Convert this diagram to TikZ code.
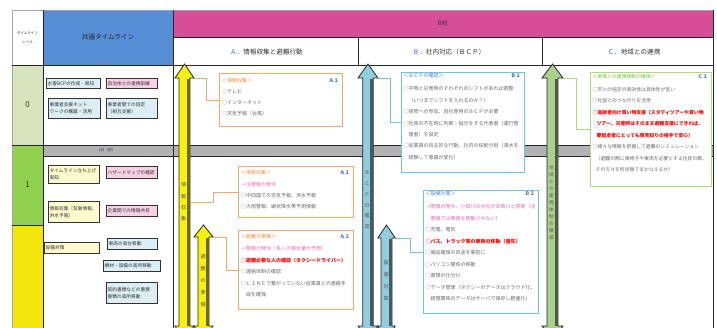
\documentclass[tikz,border=0pt]{standalone}
\usepackage{fontspec}
\setmainfont{Noto Sans CJK JP}
\usetikzlibrary{calc}
\definecolor{pinkhead}{RGB}{213,78,151}
\definecolor{bluehead}{RGB}{85,142,213}
\definecolor{lvlzero}{RGB}{216,228,188}
\definecolor{lvlone}{RGB}{146,208,80}
\definecolor{lvltwo}{RGB}{242,230,12}
\definecolor{grayband}{RGB}{178,178,180}
\definecolor{arryel}{RGB}{246,240,20}
\definecolor{arrblue}{RGB}{146,205,222}
\definecolor{arrgreen}{RGB}{169,208,142}
\definecolor{bxblue}{RGB}{218,238,243}
\definecolor{bxpink}{RGB}{248,208,228}
\definecolor{bxyel}{RGB}{255,250,205}
\definecolor{orgB}{RGB}{245,165,110}
\definecolor{orgT}{RGB}{240,140,60}
\definecolor{bluB}{RGB}{110,195,228}
\definecolor{bluT}{RGB}{70,130,200}
\definecolor{grnB}{RGB}{170,220,130}
\definecolor{grnT}{RGB}{110,190,60}
\definecolor{labblue}{RGB}{68,114,196}
\definecolor{pinkT}{RGB}{228,100,170}
\definecolor{txtgray}{RGB}{105,105,105}
\tikzset{
  tline/.style={draw=black!85, line width=0.8pt},
  cbox/.style={draw=black!80, line width=0.9pt, anchor=north west, inner sep=1.2pt,
    align=left, font=\fontsize{4.7}{6.8}\selectfont, text=black!80},
  bbox/.style={draw=#1, line width=1pt, anchor=north west, inner sep=0pt, fill=white},
  txt/.style={anchor=north west, inner sep=0pt, align=left, text=txtgray,
    font=\fontsize{5}{11.4}\selectfont},
  lab/.style={anchor=north east, inner sep=0pt, text=labblue, font=\fontsize{5}{6}\selectfont\bfseries},
  conn/.style={line width=0.9pt, draw=#1},
  vtxt/.style={inner sep=0pt, align=center, text=black!65},
  hdr/.style={inner sep=0pt, text=black!80},
}
\newcommand\udarr[9]{%
  \path[draw=black!85, line width=0.8pt, fill=#7]
    (#2,#3) -- (#2+#5,#4) -- (#2+#6,#4) -- (#2+#6,326) -- (#2+#5,326) -- (#2,340)
    -- (#2-#5,326) -- (#2-#6,326) -- (#2-#6,#4) -- (#2-#5,#4) -- cycle;
  \fill[#8] (#2+#6-2.8,#4+0.6) rectangle (#2+#6-0.4,326);
  \coordinate (#1) at (#2,#3);
  \coordinate (#9) at (#2+#5,#4);
}
\begin{document}
\begin{tikzpicture}[x=1pt,y=-1pt]
\useasboundingbox (0,0) rectangle (717,327);
\clip (0,0) rectangle (717,327);
\fill[white] (0,0) rectangle (717,327);

% header cells
\fill[bluehead] (43,10) rectangle (173,65);
\fill[pinkhead] (173,10) rectangle (713,37);
% level column
\fill[lvlzero] (12,65) rectangle (43,145);
\fill[lvlone] (12,145) rectangle (43,225);
\fill[lvltwo] (12,225) rectangle (43,330);
% gray band
\fill[grayband] (43,145) rectangle (713,156);

% outer border
\draw[draw=black!35, line width=0.9pt] (12,330) -- (12,10) -- (713,10);
\draw[tline] (713,10) -- (713,330);
% table lines
\draw[tline] (43,10) -- (43,330);
\draw[tline] (173,10) -- (173,330);
\draw[tline] (173,37) -- (713,37);
\draw[tline] (12,65) -- (713,65);
\draw[tline] (358,37) -- (358,65);
\draw[tline] (542,37) -- (542,65);
\draw[tline] (12,145) -- (713,145);
\draw[tline] (43,156) -- (713,156);
\draw[tline] (12,225) -- (43,225);

% header texts
\node[hdr, align=center, font=\fontsize{3.6}{9}\selectfont] (hlvl) at (27.5,37.5) {タイムライン\\レベル};
\node[hdr, font=\fontsize{6.6}{8}\selectfont, text=black!85] (hcommon) at (108,37.5) {共通タイムライン};
\node[hdr, font=\fontsize{6.2}{8}\selectfont] (hb) at (443,23.5) {B社};
\node[hdr, font=\fontsize{6.6}{8}\selectfont] (hA) at (266.5,51.5) {\textcolor{labblue}{Ａ．}情報収集と避難行動};
\node[hdr, font=\fontsize{6.6}{8}\selectfont] (hB) at (449,51.5) {\textcolor{labblue}{Ｂ．}社内対応（ＢＣＰ）};
\node[hdr, font=\fontsize{6.6}{8}\selectfont] (hC) at (634,51.5) {\textcolor{labblue}{Ｃ．}地域との連携};
\node[hdr, font=\fontsize{8}{9}\selectfont] (l0) at (27.5,105) {0};
\node[hdr, font=\fontsize{8}{9}\selectfont] (l1) at (27.5,185) {1};
\node[hdr, font=\fontsize{3.6}{5}\selectfont] (band) at (107,150.5) {5日（前）};

% common timeline boxes
\node[cbox, fill=bxblue, text width=51.6pt, minimum height=10pt] (c1) at (46,78) {水害BCPの作成・周知};
\node[cbox, fill=bxpink, text width=48.6pt, minimum height=10pt] (c2) at (106,78) {自治体との連携訓練};
\node[cbox, fill=bxblue, text width=49.6pt, minimum height=20pt] (c3) at (48,98) {事業者支援ネット\\ワークの構築・活用};
\node[cbox, fill=bxblue, text width=48.6pt, minimum height=20pt] (c4) at (106,98) {事業者間での協定\\（相互支援）};
\node[cbox, fill=bxyel, text width=48.6pt, minimum height=18pt] (c5) at (48,165) {タイムライン立ち上げ\\周知};
\node[cbox, fill=bxpink, text width=48.6pt, minimum height=12pt] (c6) at (106,166) {ハザードマップの確認};
\node[cbox, fill=bxyel, text width=48.6pt, minimum height=21pt] (c7) at (48,201) {情報収集（気象情報、\\洪水予報）};
\node[cbox, fill=bxpink, text width=48.6pt, minimum height=11pt] (c8) at (106,205) {企業間での情報共有};
\node[cbox, fill=bxyel, text width=52.6pt, minimum height=11pt] (c9) at (44,242) {設備対策};
\node[cbox, fill=bxblue, text width=47.6pt, minimum height=11pt] (c10) at (107,238) {車両の高台移動};
\node[cbox, fill=bxblue, text width=54.6pt, minimum height=11pt] (c11) at (103,260) {機材・設備の高所移動};
\node[cbox, fill=bxblue, text width=48.6pt, minimum height=21pt] (c12) at (106,282) {契約書類などの重要\\書類の高所移動};

% arrows
\udarr{ya}{184.5}{64}{78}{9.5}{5.5}{arryel}{arryel!45!black}{yar}
\udarr{yb}{203.5}{225}{237}{9.5}{5.5}{arryel}{arryel!45!black}{ybr}
\udarr{ba}{368}{64}{78}{10}{5.2}{arrblue}{arrblue!45!black}{bar}
\udarr{bb}{386.5}{225}{238}{8.75}{5.5}{arrblue}{arrblue!45!black}{bbr}
\udarr{ga}{552.5}{64}{78}{10.5}{5.5}{arrgreen}{arrgreen!45!black}{gar}
\coordinate (yam) at (190,202);

\node[vtxt, font=\fontsize{5}{11.3}\selectfont] (yat) at (183.5,202) {情\\報\\収\\集};
\node[vtxt, font=\fontsize{5}{12}\selectfont] (ybt) at (203,281) {避\\難\\の\\準\\備};
\node[vtxt, font=\fontsize{5}{10.8}\selectfont] (bat) at (367,200) {Ｂ\\Ｃ\\Ｐ\\の\\確\\認};
\node[vtxt, font=\fontsize{5}{12}\selectfont] (bbt) at (386,281) {設\\備\\対\\策};
\node[vtxt, font=\fontsize{4.6}{7}\selectfont] (gat) at (551.5,203) {地\\域\\と\\の\\連\\携\\体\\制\\の\\確\\保};

% detail boxes
\node[bbox=orgB, minimum width=123pt, minimum height=53pt] (a1) at (219,73) {};
\node[bbox=orgB, minimum width=115pt, minimum height=51pt] (a1b) at (238,166) {};
\node[bbox=orgB, minimum width=115pt, minimum height=79pt] (a2) at (238,230) {};
\node[bbox=bluB, minimum width=123pt, minimum height=100pt] (b1) at (401,72) {};
\node[bbox=bluB, minimum width=115pt, minimum height=123pt] (b2) at (423,190) {};
\node[bbox=grnB, minimum width=121pt, minimum height=114pt] (cc1) at (590,72) {};

% connectors
\draw[conn=orgB] (yar) -- ++(12,0) |- (a1.west);
\draw[conn=orgB] (yam) -- ++(23,0) |- (a1b.west);
\draw[conn=orgB] (ybr) -- ++(13,0) |- (a2.west);
\draw[conn=bluB] (bar) -- ++(12,0) |- (b1.west);
\draw[conn=bluB] (bbr) -- ++(14.75,0) |- (b2.west);
\draw[conn=grnB] (gar) -- ++(13,0) |- (cc1.west);

% texts in detail boxes
\node[txt, font=\fontsize{5}{10.7}\selectfont] (a1t) at (222,78.5) {\textcolor{orgT}{＜情報収集＞}\\
○テレビ\\○インターネット\\○天気予報（台風）};
\node[lab] (a1l) at (339,78.5) {Ａ１};

\node[txt, font=\fontsize{5}{11.3}\selectfont] (a1bt) at (241,170.5) {\textcolor{orgT}{＜情報収集＞}\\
\textcolor{pinkT}{→注意報の発令}\\
○中四国での天気予報、洪水予報\\
○大雨警報、線状降水帯予測情報};
\node[lab] (a1bl) at (350,170.5) {Ａ１};

\node[txt, font=\fontsize{5}{11.6}\selectfont] (a2t) at (241,234.5) {\textcolor{orgT}{＜避難の準備＞}\\
\textcolor{pinkT}{→警報の発令（多くの降水量が予想）}\\
\textcolor{red}{\bfseries ○避難必要な人の確認（タクシードライバー）}\\
○連絡体制の確認\\
○ＬＩＮＥで繋がっていない従業員との連絡手\\
\hspace*{5pt}段を確保};
\node[lab] (a2l) at (350,234.5) {Ａ２};

\node[txt] (b1t) at (403.5,73.5) {\textcolor{bluT}{＜ＢＣＰの確認＞}\\[1.5pt]
○平時と災害時のそれぞれのシフトがあれば調整\\
\hspace*{5pt}（いつまでシフトを入れるのか？）\\
○研修への参加、自社専用のＢＣＰが必要\\
○社長の不在時に判断・指示をする代表者（運行管\\
\hspace*{5pt}理者）を設定\\
○従業員の自主的な行動、社内の役割分担（浸水を\\
\hspace*{5pt}経験して意識が変化）};
\node[lab] (b1l) at (521,73.5) {Ｂ１};

\node[txt, font=\fontsize{5}{11.5}\selectfont] (b2t) at (425.5,191.5) {\textcolor{bluT}{＜設備対策＞}\\[1.5pt]
\textcolor{pinkT}{→警報の発令、小田川の水位が末政川と同等（注}\\
\textcolor{pinkT}{\hspace*{5pt}意報では車両を移動させない）}\\
○充電、電気\\
\textcolor{red}{\bfseries ○バス、トラック等の車両の移動（優先）}\\
○備品確保の目途を事前に\\
○パソコン関係の移動\\
○書類の仕分け\\
○データ管理（タクシーのデータはクラウド化、\\
\hspace*{5pt}経理関係のデータはサーバで保存し軽量化）};
\node[lab] (b2l) at (535,191.5) {Ｂ２};

\node[txt, font=\fontsize{4.85}{11.5}\selectfont] (c1t) at (592.5,74.5) {\textcolor{grnT}{＜地域との連携体制の確保＞}\\[1pt]
○市との協定の実効性は具体性が低い\\
○社協とのつながりを活用\\
\textcolor{red}{\bfseries ○高齢者向け買い物支援（スタディツアーや買い物}\\
\textcolor{red}{\bfseries \hspace*{4pt}ツアー、災害時はそのまま避難支援にできれば、}\\
\textcolor{red}{\bfseries \hspace*{4pt}要配慮者にとっても顔見知りの相手で安心）}\\
○様々な情報を把握して避難のシミュレーション\\
\hspace*{3pt}（避難の際に車椅子や車両を必要とする住民の数、\\
\hspace*{3pt}その方々を何往復でまかなえるか）};
\node[lab] (c1l) at (708,74.5) {Ｃ１};
\end{tikzpicture}
\end{document}
